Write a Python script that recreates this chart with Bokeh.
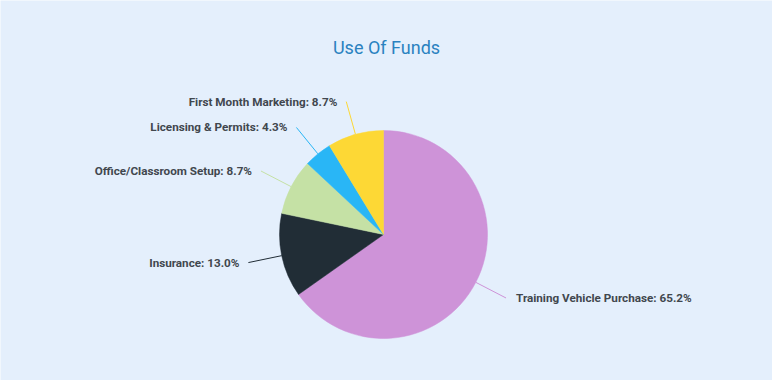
import math
from bokeh.plotting import figure
from bokeh.models import ColumnDataSource
from bokeh.core.properties import value
from bokeh.embed import file_html
from bokeh.resources import INLINE

title_text = "Use Of Funds"
categories = ["Training Vehicle Purchase", "Insurance", "Office/Classroom Setup",
              "Licensing & Permits", "First Month Marketing"]
amounts = [15000, 3000, 2000, 1000, 2000]
colors = ["#ce93d8", "#212d36", "#c5e1a5", "#29b6f6", "#fdd835"]

BG = "#e4effc"
W, H = 772, 380
cx, cy, r = 383, 146, 104
r_out = 138

total = sum(amounts)
starts, ends, labels, mids = [], [], [], []
cum = 0.0
for v, c in zip(amounts, categories):
    frac0 = cum / total
    cum += v
    frac1 = cum / total
    a_start = math.pi / 2 - 2 * math.pi * frac1
    a_end = math.pi / 2 - 2 * math.pi * frac0
    starts.append(a_start)
    ends.append(a_end)
    mids.append((a_start + a_end) / 2)
    labels.append(f"{c}: {100 * v / total:.1f}%")

x0 = [cx + r * math.cos(m) for m in mids]
y0 = [cy + r * math.sin(m) for m in mids]
x1 = [cx + r_out * math.cos(m) for m in mids]
y1 = [cy + r_out * math.sin(m) for m in mids]
tx = [x + (10 if math.cos(m) >= 0 else -9) for x, m in zip(x1, mids)]
align = ["left" if math.cos(m) >= 0 else "right" for m in mids]

src = ColumnDataSource(dict(start=starts, end=ends, color=colors, label=labels,
                            x0=x0, y0=y0, x1=x1, y1=y1, tx=tx, ty=y1, align=align,
                            cx=[cx] * len(amounts), cy=[cy] * len(amounts)))

p = figure(width=W, height=H, x_range=(0, W), y_range=(0, H),
           output_backend="svg", toolbar_location=None, min_border=0,
           background_fill_color=BG, border_fill_color=BG, outline_line_color=None)
p.axis.visible = False
p.grid.visible = False

p.wedge(x="cx", y="cy", radius=r, start_angle="start", end_angle="end",
        fill_color="color", line_color="color", line_width=0.5, source=src)
p.segment(x0="x0", y0="y0", x1="x1", y1="y1", line_color="color", line_width=1, source=src)
p.text(x="tx", y="ty", text="label", text_align="align", text_baseline="middle",
       text_font=value("Roboto"), text_font_style="bold", text_font_size="11.7px",
       text_color="#41474e", source=src)

p.text(x=[W / 2], y=[H - 47], text=[title_text], text_align="center",
       text_baseline="middle", text_font=value("Roboto"), text_font_size="18px",
       text_color="#2a82c0")

open("out.html", "w").write(file_html(p, INLINE))
